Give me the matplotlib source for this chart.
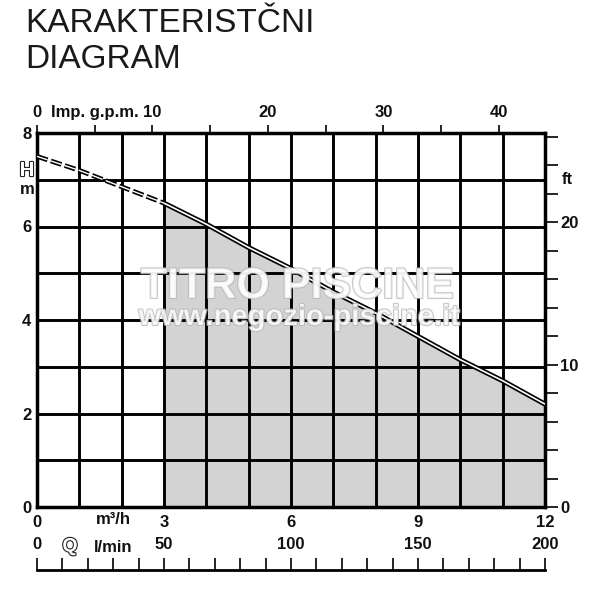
import matplotlib
matplotlib.use("Agg")
import matplotlib.pyplot as plt
import matplotlib.patheffects as pe
import numpy as np

# pump curve, Q in m3/h, H in m
q_m3h = [0, 1, 2, 3, 4, 5, 6, 7, 8, 9, 10, 11, 12]
head_m = [7.5, 7.2, 6.85, 6.5, 6.05, 5.55, 5.1, 4.6, 4.15, 3.65, 3.15, 2.7, 2.2]
q_start = 3  # dashed below this, working range above

x_labels = ["0", "", "", "3", "", "", "6", "", "", "9", "", "", "12"]
y_labels = ["0", "", "2", "", "4", "", "6", "", "8"]
gpm_ticks = [0, 5, 10, 15, 20, 25, 30, 35, 40]
gpm_labels = ["0", "", "10", "", "20", "", "30", "", "40"]
ft_ticks = [0, 2, 4, 6, 8, 10, 12, 14, 16, 18, 20, 22, 24, 26]
ft_labels = ["0", "", "", "", "", "10", "", "", "", "", "20", "", "", ""]
lmin_ticks = np.arange(0, 201, 10)
lmin_labels = ["0", "50", "100", "150", "200"]

M3H_TO_GPM = 3.6661
M_TO_FT = 3.2808

plt.rcParams['font.family'] = ['Liberation Sans', 'DejaVu Sans']
plt.rcParams['lines.scale_dashes'] = False
lab = dict(fontsize=12, fontweight='bold', color='#111111')
hollow = [pe.withStroke(linewidth=1.6, foreground='#222222')]

fig = plt.figure(figsize=(6, 6), dpi=100)
ax = fig.add_axes([37/600, 1-507/600, 508/600, 374/600])
ax.set_xlim(0, 12)
ax.set_ylim(0, 8)

x = np.array(q_m3h, dtype=float)
y = np.array(head_m)
work = x >= q_start
ax.fill_between(x[work], 0, y[work], color='#d3d3d3', zorder=1, linewidth=0)

# double line curve
ax.plot(x[work], y[work], color='black', lw=3.6, zorder=4, solid_capstyle='butt')
ax.plot(x[work], y[work], color='white', lw=1.2, zorder=5, solid_capstyle='butt')
dash = x <= q_start
ax.plot(x[dash], y[dash], color='black', lw=3.4, zorder=4, dashes=(8, 2.5))
ax.plot(x[dash], y[dash], color='white', lw=1.0, zorder=5, dashes=(8, 2.5))

ax.set_xticks(q_m3h)
ax.set_xticklabels(x_labels, **lab)
ax.set_yticks(range(9))
ax.set_yticklabels(y_labels, **lab)
ax.tick_params(axis='both', length=0)
ax.tick_params(axis='x', pad=6)
ax.tick_params(axis='y', pad=4)
ax.grid(True, color='black', lw=2.1)
ax.set_axisbelow(False)
for s in ax.spines.values():
    s.set_linewidth(2.5)

# top axis Imp. g.p.m.
top = ax.secondary_xaxis('top', functions=(lambda v: v*M3H_TO_GPM, lambda v: v/M3H_TO_GPM))
top.set_xticks(gpm_ticks)
top.set_xticklabels(gpm_labels, **lab)
top.tick_params(direction='out', length=6, width=1.2, pad=3)
top.spines['top'].set_visible(False)
fig.text(95/600, 1-112/600, "Imp. g.p.m.", ha='center', va='center', **lab)

# right axis ft
right = ax.secondary_yaxis('right', functions=(lambda v: v*M_TO_FT, lambda v: v/M_TO_FT))
right.set_yticks(ft_ticks)
right.set_yticklabels(ft_labels, **lab)
right.tick_params(direction='out', length=9, width=1.2, pad=2)
right.spines['right'].set_visible(False)
fig.text(567/600, 1-180/600, "ft", ha='center', va='center', **lab)

# H / m label
fig.text(27/600, 1-171/600, "H", ha='center', va='center', fontsize=15, fontweight='bold',
         color='white', path_effects=hollow)
fig.text(27/600, 1-190/600, "m", ha='center', va='center', **lab)
fig.text(113/600, 1-520/600, "m³/h", ha='center', va='center', **lab)

# l/min scale
axl = fig.add_axes([37/600, 0.05, 508/600, 0.02])
axl.set_xlim(0, 200)
axl.set_yticks([])
for k in ['left', 'right', 'top']:
    axl.spines[k].set_visible(False)
axl.spines['bottom'].set_linewidth(2.0)
axl.set_xticks(lmin_ticks, minor=True)
axl.set_xticks([0, 50, 100, 150, 200])
axl.set_xticklabels(lmin_labels, **lab)
axl.tick_params(axis='x', which='both', direction='in', length=9, width=1.2,
                labelbottom=False, labeltop=True, pad=4)
axl.patch.set_alpha(0)
fig.text(113/600, 1-548/600, "l/min", ha='center', va='center', **lab)
fig.text(70/600, 1-547/600, "Q", ha='center', va='center', fontsize=14, fontweight='bold',
         color='white', path_effects=hollow)

# watermark
wm = [pe.withStroke(linewidth=1.5, foreground='#b5b5b5')]
fig.text(297/600, 1-287/600, "TITRO PISCINE", ha='center', va='center', fontsize=31,
         fontweight='bold', color='white', alpha=0.75, path_effects=wm, zorder=10)
fig.text(299/600, 1-317/600, "www.negozio-piscine.it", ha='center', va='center', fontsize=21,
         fontweight='bold', color='white', alpha=0.75, path_effects=wm, zorder=10)

fig.text(25/600, 1-8/600, "KARAKTERISTČNI\nDIAGRAM", ha='left', va='top', fontsize=24,
         color='#1a1a1a', linespacing=1.2)

fig.savefig('out.png', dpi=100)
